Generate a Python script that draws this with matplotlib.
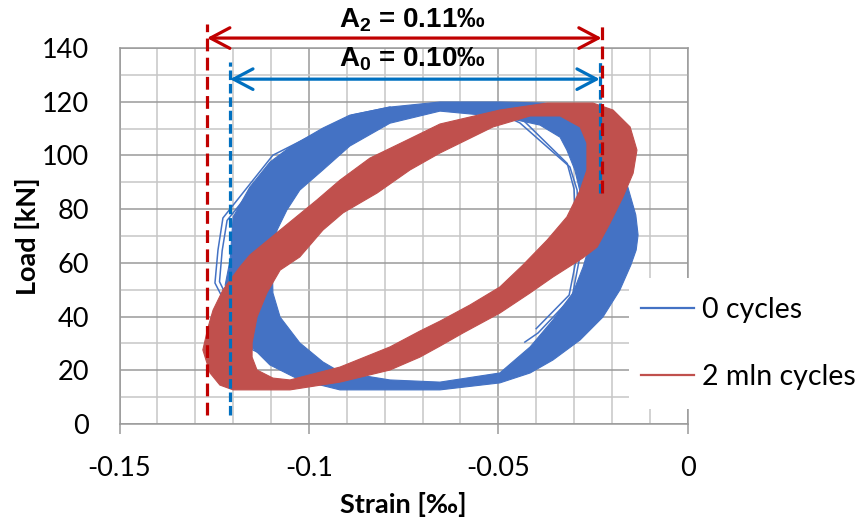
import matplotlib
matplotlib.use("Agg")
import matplotlib.pyplot as plt
import numpy as np
from matplotlib.path import Path
from matplotlib.patches import PathPatch, Rectangle, FancyArrowPatch, ArrowStyle
from matplotlib.lines import Line2D
from matplotlib.ticker import MultipleLocator, FixedLocator

plt.rcParams.update({
    "font.family": ["Lato", "DejaVu Sans"],
    "font.size": 19.5,
    "mathtext.fontset": "custom",
    "mathtext.rm": "Liberation Sans:bold",
    "mathtext.it": "Liberation Sans:bold",
    "mathtext.bf": "Liberation Sans:bold",
})

# ---- data (strain in permille, load in kN) ----
# 0 cycles: band of loops, outer and inner outline
blue_outer_strain = [-0.1208, -0.1200, -0.1156, -0.1103, -0.1050, -0.0963, -0.0892, -0.0786,
                     -0.0654, -0.0496, -0.0380, -0.0298, -0.0232, -0.0192, -0.0158, -0.0137,
                     -0.0131, -0.0136, -0.0150, -0.0179, -0.0224, -0.0284, -0.0356, -0.0416,
                     -0.0496, -0.0654, -0.0918, -0.1024, -0.1103, -0.1169, -0.1208, -0.1221]
blue_outer_load = [61.1, 77.1, 88.2, 97.5, 103.1, 110.2, 115.0, 118.0,
                   119.9, 119.9, 119.5, 117.6, 111.3, 100.1, 88.2, 77.8,
                   70.4, 64.8, 59.2, 49.9, 39.8, 31.3, 23.8, 19.0,
                   15.3, 12.7, 12.7, 16.4, 22.0, 31.3, 42.4, 51.8]
blue_inner_strain = [-0.1084, -0.1058, -0.1024, -0.0963, -0.0892, -0.0786, -0.0654, -0.0488,
                     -0.0390, -0.0337, -0.0319, -0.0298, -0.0279, -0.0266, -0.0263, -0.0276,
                     -0.0303, -0.0356, -0.0416, -0.0496, -0.0654, -0.0786, -0.0918, -0.0963,
                     -0.1024, -0.1076, -0.1095, -0.1097]
blue_inner_load = [72.2, 79.7, 87.1, 94.6, 103.5, 112.0, 116.5, 114.3,
                   111.3, 106.8, 102.0, 94.6, 83.4, 72.2, 64.8, 58.5,
                   48.8, 38.7, 28.7, 19.0, 15.6, 16.4, 19.4, 23.1,
                   30.2, 39.8, 48.8, 61.1]
# single stray cycles of the 0-cycle record
blue_stray_left_strain = [-0.0786, -0.0886, -0.1095, -0.1227, -0.1240, -0.1248, -0.1229, -0.1148, -0.1050, -0.0944]
blue_stray_left_load = [118.0, 115.0, 100.1, 76.7, 64.8, 52.5, 47.3, 27.6, 21.2, 16.4]
blue_stray_left2_strain = [-0.0786, -0.0878, -0.1086, -0.1216, -0.1229, -0.1236, -0.1218, -0.1140, -0.1046]
blue_stray_left2_load = [117.0, 113.6, 98.6, 75.8, 64.5, 53.0, 47.8, 29.0, 22.5]
blue_stray_right_strain = [-0.0548, -0.0443, -0.0311, -0.0292, -0.0284, -0.0305, -0.0395, -0.0430]
blue_stray_right_load = [119.1, 112.1, 95.7, 87.1, 62.9, 47.3, 33.9, 30.5]
blue_stray_right2_strain = [-0.0540, -0.0437, -0.0318, -0.0300, -0.0292, -0.0313, -0.0400]
blue_stray_right2_load = [119.5, 113.5, 97.0, 87.5, 63.0, 48.0, 35.5]

# 2 mln cycles: band of loops, outer and inner outline
red_outer_strain = [-0.1280, -0.1266, -0.1253, -0.1227, -0.1182, -0.1156, -0.1076, -0.0979,
                    -0.0918, -0.0839, -0.0741, -0.0654, -0.0496, -0.0371, -0.0250, -0.0197,
                    -0.0152, -0.0134, -0.0144, -0.0171, -0.0205, -0.0239, -0.0277, -0.0356,
                    -0.0416, -0.0496, -0.0593, -0.0654, -0.0707, -0.0786, -0.0918, -0.1050,
                    -0.1200, -0.1235, -0.1261]
red_outer_load = [27.6, 36.1, 42.4, 49.9, 58.5, 62.9, 72.2, 83.4,
                  90.8, 99.0, 105.7, 111.7, 116.9, 119.5, 119.5, 116.9,
                  110.6, 102.0, 93.4, 84.5, 74.8, 65.9, 61.8, 54.7,
                  48.8, 41.3, 33.9, 29.0, 24.9, 20.1, 15.6, 12.7,
                  12.7, 14.5, 19.0]
red_inner_strain = [-0.1150, -0.1137, -0.1111, -0.1076, -0.1024, -0.0963, -0.0910, -0.0820,
                    -0.0733, -0.0654, -0.0514, -0.0416, -0.0337, -0.0284, -0.0266, -0.0266,
                    -0.0284, -0.0319, -0.0371, -0.0435, -0.0496, -0.0575, -0.0654, -0.0707,
                    -0.0786, -0.0918, -0.1050, -0.1095, -0.1137, -0.1150]
red_inner_load = [30.2, 39.8, 48.8, 57.3, 62.2, 72.2, 78.6, 86.0,
                  94.6, 100.9, 110.6, 114.7, 114.7, 110.6, 104.6, 94.6,
                  87.1, 77.1, 68.5, 59.2, 51.0, 44.3, 38.3, 34.6,
                  28.7, 21.2, 16.4, 17.1, 20.1, 24.9]

# amplitude markers
a0_strain = [-0.1208, -0.0232]
a2_strain = [-0.1269, -0.0227]
a0_text = r"$\mathrm{A_0}$ = 0.10‰"
a2_text = r"$\mathrm{A_2}$ = 0.11‰"

legend_labels = ["0 cycles", "2 mln cycles"]
xtick_values = [-0.15, -0.1, -0.05, 0]
xtick_labels = ["-0.15", "-0.1", "-0.05", "0"]

blue = "#4472C4"
red = "#C0504D"
dash_blue = "#0070C0"
dash_red = "#C00000"
grid_major = "#9A9A9A"
grid_minor = "#C6C6C6"


def band(ax, ox, oy, ix, iy, color):
    outer = np.column_stack([ox, oy])
    inner = np.column_stack([ix, iy])[::-1]
    verts = np.concatenate([outer, outer[:1], inner, inner[:1]])
    codes = ([Path.MOVETO] + [Path.LINETO] * (len(outer) - 1) + [Path.CLOSEPOLY]
             + [Path.MOVETO] + [Path.LINETO] * (len(inner) - 1) + [Path.CLOSEPOLY])
    ax.add_patch(PathPatch(Path(verts, codes), facecolor=color, edgecolor=color,
                           lw=0.8, joinstyle="round", zorder=3))


fig = plt.figure(figsize=(8.56, 5.19), dpi=100)
ax = fig.add_axes([119.5 / 856, 1 - 424 / 519, (687.7 - 119.5) / 856, (424 - 48) / 519])

ax.set_xlim(-0.15, 0)
ax.set_ylim(0, 140)
ax.xaxis.set_major_locator(FixedLocator(xtick_values))
ax.set_xticklabels(xtick_labels)
ax.xaxis.set_minor_locator(MultipleLocator(0.01))
ax.yaxis.set_major_locator(MultipleLocator(20))
ax.yaxis.set_minor_locator(MultipleLocator(10))
ax.grid(which="major", color=grid_major, lw=1.1, zorder=0)
ax.grid(which="minor", color=grid_minor, lw=1.1, zorder=0)
ax.set_axisbelow(True)
for s in ax.spines.values():
    s.set_color(grid_major)
    s.set_linewidth(1.1)
ax.tick_params(axis="x", which="major", length=7.2, width=1.1, color=grid_major, pad=16)
ax.tick_params(axis="x", which="minor", length=0)
ax.tick_params(axis="y", which="both", length=0, pad=22)

# loops
ax.plot(blue_stray_left_strain, blue_stray_left_load, color=blue, lw=1.1, zorder=2)
ax.plot(blue_stray_left2_strain, blue_stray_left2_load, color=blue, lw=1.1, zorder=2)
ax.plot(blue_stray_right_strain, blue_stray_right_load, color=blue, lw=1.1, zorder=2)
ax.plot(blue_stray_right2_strain, blue_stray_right2_load, color=blue, lw=1.1, zorder=2)
band(ax, blue_outer_strain, blue_outer_load, blue_inner_strain, blue_inner_load, blue)
band(ax, red_outer_strain, red_outer_load, red_inner_strain, red_inner_load, red)

# amplitude guide lines
ax.plot([a0_strain[0]] * 2, [3.3, 134.8], color=dash_blue, lw=2.3, dashes=(3, 1.2), clip_on=False, zorder=4)
ax.plot([a0_strain[1]] * 2, [86, 134.8], color=dash_blue, lw=2.3, dashes=(3, 1.2), clip_on=False, zorder=4)
ax.plot([a2_strain[0]] * 2, [3.3, 149], color=dash_red, lw=2.3, dashes=(4, 2), clip_on=False, zorder=5)
ax.plot([a2_strain[1]] * 2, [86, 149], color=dash_red, lw=2.3, dashes=(4, 2), clip_on=False, zorder=5)

style = ArrowStyle("<->", head_length=0.7, head_width=0.37)
for xs, yy, c in [(a2_strain, 143.7, dash_red), (a0_strain, 128.4, dash_blue)]:
    arr = FancyArrowPatch((xs[0], yy), (xs[1], yy), arrowstyle=style, mutation_scale=20,
                          lw=2.3, color=c, shrinkA=0, shrinkB=0, clip_on=False, zorder=6)
    ax.add_patch(arr)

ax.text(-0.0728, 147.6, a2_text, family="Liberation Sans", weight="bold", size=20,
        ha="center", va="baseline", zorder=7)
ax.text(-0.0728, 133.0, a0_text, family="Liberation Sans", weight="bold", size=20,
        ha="center", va="baseline", zorder=7)

# legend on white patch
fig.add_artist(Rectangle((629 / 856, 1 - 409 / 519), 0.3, (409 - 278) / 519,
                         transform=fig.transFigure, facecolor="white", edgecolor="none", zorder=2))
handles = [Line2D([0], [0], color=blue, lw=1.6), Line2D([0], [0], color=red, lw=1.6)]
fig.legend(handles, legend_labels, loc="center left", bbox_to_anchor=(641 / 856, 1 - 343.5 / 519),
           frameon=False, handlelength=1.85, handletextpad=0.3, labelspacing=1.45,
           borderpad=0, borderaxespad=0, fontsize=20.5)

fig.text(403.6 / 856, 2 / 519, "Strain [‰]", ha="center", va="bottom", weight="bold")
fig.text(28 / 856, 1 - 236 / 519, "Load [kN]", rotation=90, ha="center", va="center", weight="bold")

fig.savefig("out.png", dpi=100)
